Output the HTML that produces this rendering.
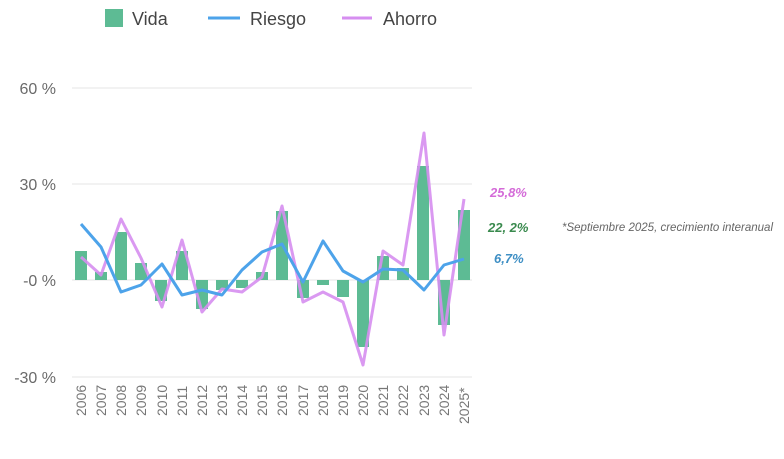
<!DOCTYPE html>
<html><head><meta charset="utf-8"><style>
html,body{margin:0;padding:0;background:#fff;}
svg{display:block;font-family:"Liberation Sans",sans-serif;}
</style></head><body>
<svg width="784" height="459" viewBox="0 0 784 459">
<rect width="784" height="459" fill="#fff"/>
<g stroke="#e4e4e4" stroke-width="1">
<line x1="72" y1="88" x2="472" y2="88"/>
<line x1="72" y1="184" x2="472" y2="184"/>
<line x1="72" y1="280" x2="472" y2="280"/>
<line x1="72" y1="377" x2="472" y2="377"/>
</g>
<g fill="#6a6a6a" font-size="16" text-anchor="end">
<text x="56" y="94">60 %</text>
<text x="56" y="190">30 %</text>
<text x="56" y="286">-0 %</text>
<text x="56" y="383">-30 %</text>
</g>
<g fill="#5dbb94">
<rect x="75" y="251" width="12" height="29"/>
<rect x="95" y="272" width="12" height="8"/>
<rect x="115" y="232" width="12" height="48"/>
<rect x="135" y="263" width="12" height="17"/>
<rect x="155" y="280" width="12" height="21"/>
<rect x="176" y="251" width="12" height="29"/>
<rect x="196" y="280" width="12" height="29"/>
<rect x="216" y="280" width="12" height="10"/>
<rect x="236" y="280" width="12" height="8"/>
<rect x="256" y="272" width="12" height="8"/>
<rect x="276" y="211" width="12" height="69"/>
<rect x="297" y="280" width="12" height="18"/>
<rect x="317" y="280" width="12" height="5"/>
<rect x="337" y="280" width="12" height="17"/>
<rect x="357" y="280" width="12" height="67"/>
<rect x="377" y="256" width="12" height="24"/>
<rect x="397" y="268" width="12" height="12"/>
<rect x="417" y="166" width="12" height="114"/>
<rect x="438" y="280" width="12" height="45"/>
<rect x="458" y="210" width="12" height="70"/>
</g>
<polyline fill="none" stroke="#d68ef0" stroke-width="3" stroke-linejoin="round" opacity="0.9"
points="81,257 101,275 121,219 141,258 162,307 182,240 202,312 222,289 242,292 262,277 282,206 303,302 323,292 343,302 363,365 383,251 403,265 424,133 444,335 464,199"/>
<polyline fill="none" stroke="#4da3ea" stroke-width="3" stroke-linejoin="round"
points="81,224 101,247 121,292 141,285 162,264 182,295 202,290 222,295 242,270 262,252 282,244 303,282 323,241 343,271 363,282 383,269 403,270 424,290 444,265 464,259"/>
<g fill="#777" font-size="14">
<text transform="translate(86,416) rotate(-90)">2006</text>
<text transform="translate(106,416) rotate(-90)">2007</text>
<text transform="translate(126,416) rotate(-90)">2008</text>
<text transform="translate(146,416) rotate(-90)">2009</text>
<text transform="translate(167,416) rotate(-90)">2010</text>
<text transform="translate(187,416) rotate(-90)">2011</text>
<text transform="translate(207,416) rotate(-90)">2012</text>
<text transform="translate(227,416) rotate(-90)">2013</text>
<text transform="translate(247,416) rotate(-90)">2014</text>
<text transform="translate(267,416) rotate(-90)">2015</text>
<text transform="translate(287,416) rotate(-90)">2016</text>
<text transform="translate(308,416) rotate(-90)">2017</text>
<text transform="translate(328,416) rotate(-90)">2018</text>
<text transform="translate(348,416) rotate(-90)">2019</text>
<text transform="translate(368,416) rotate(-90)">2020</text>
<text transform="translate(388,416) rotate(-90)">2021</text>
<text transform="translate(408,416) rotate(-90)">2022</text>
<text transform="translate(429,416) rotate(-90)">2023</text>
<text transform="translate(449,416) rotate(-90)">2024</text>
<text transform="translate(469,424) rotate(-90)">2025*</text>
</g>
<rect x="105" y="9" width="18" height="18" fill="#5dbb94"/>
<text x="132" y="25" font-size="18" fill="#444">Vida</text>
<line x1="208" y1="18" x2="240" y2="18" stroke="#4da3ea" stroke-width="3"/>
<text x="250" y="25" font-size="18" fill="#444">Riesgo</text>
<line x1="342" y1="18" x2="372" y2="18" stroke="#d68ef0" stroke-width="3"/>
<text x="383" y="25" font-size="18" fill="#444">Ahorro</text>
<g font-size="13" font-weight="bold" font-style="italic">
<text x="490" y="197" fill="#d46bd8">25,8%</text>
<text x="488" y="232" fill="#3a8a4e">22, 2%</text>
<text x="494" y="263" fill="#3f8fc4">6,7%</text>
</g>
<text x="562" y="231" font-size="12" font-style="italic" fill="#666" textLength="211" lengthAdjust="spacingAndGlyphs">*Septiembre 2025, crecimiento interanual</text>
</svg>
</body></html>
